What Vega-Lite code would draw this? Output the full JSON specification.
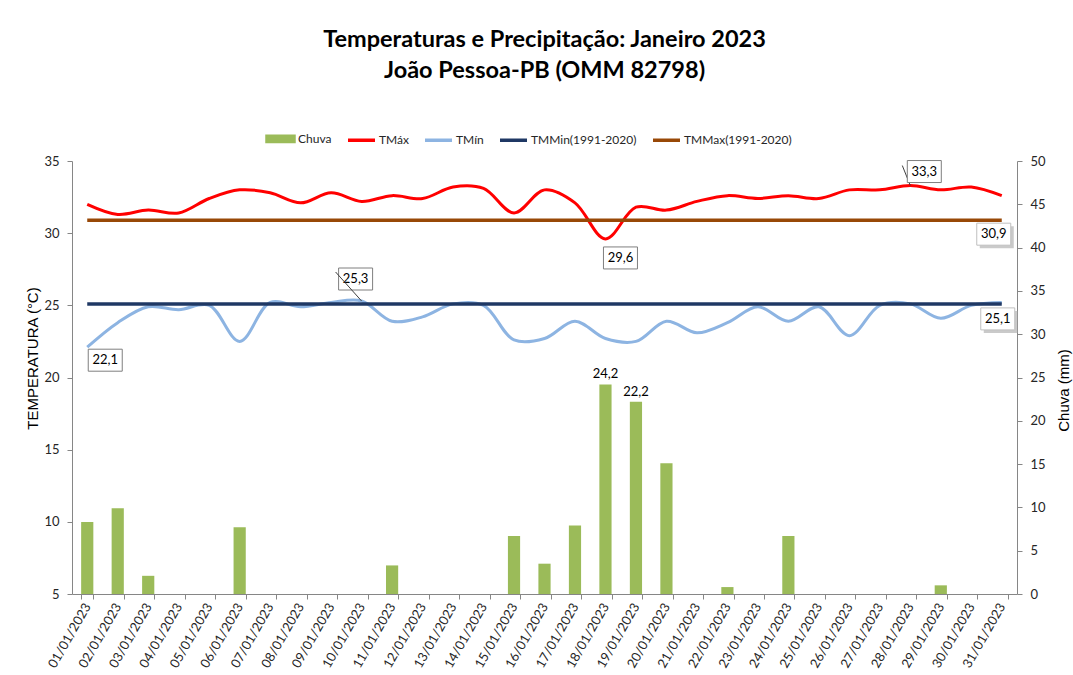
{
  "$schema": "https://vega.github.io/schema/vega-lite/v6.json",
  "width": 945,
  "height": 433,
  "autosize": "none",
  "padding": {"left": 72, "top": 161, "right": 56, "bottom": 81},
  "background": "white",
  "config": {
    "view": {"stroke": null},
    "font": "Lato",
    "locale": {"number": {"decimal": ",", "thousands": ".", "grouping": [3], "currency": ["R$", ""]}},
    "axis": {"domainColor": "#868686", "tickColor": "#868686", "labelColor": "#262626", "labelFont": "Lato", "grid": false}
  },
  "title": {
    "text": ["Temperaturas e Precipitação: Janeiro 2023", "João Pessoa-PB (OMM 82798)"],
    "font": "Lato",
    "fontSize": 23.5,
    "fontWeight": "bold",
    "lineHeight": 31,
    "anchor": "middle",
    "frame": "group",
    "color": "#000000",
    "offset": 41
  },
  "data": {
    "values": [
      {"data": "01/01/2023", "chuva": 8.3, "tmax": 32.0, "tmin": 22.1, "tmmin": 25.1, "tmmax": 30.9},
      {"data": "02/01/2023", "chuva": 9.9, "tmax": 31.3, "tmin": 23.8, "tmmin": 25.1, "tmmax": 30.9},
      {"data": "03/01/2023", "chuva": 2.1, "tmax": 31.6, "tmin": 24.9, "tmmin": 25.1, "tmmax": 30.9},
      {"data": "04/01/2023", "chuva": 0, "tmax": 31.4, "tmin": 24.7, "tmmin": 25.1, "tmmax": 30.9},
      {"data": "05/01/2023", "chuva": 0, "tmax": 32.4, "tmin": 25.0, "tmmin": 25.1, "tmmax": 30.9},
      {"data": "06/01/2023", "chuva": 7.7, "tmax": 33.0, "tmin": 22.5, "tmmin": 25.1, "tmmax": 30.9},
      {"data": "07/01/2023", "chuva": 0, "tmax": 32.8, "tmin": 25.2, "tmmin": 25.1, "tmmax": 30.9},
      {"data": "08/01/2023", "chuva": 0, "tmax": 32.1, "tmin": 24.9, "tmmin": 25.1, "tmmax": 30.9},
      {"data": "09/01/2023", "chuva": 0, "tmax": 32.8, "tmin": 25.2, "tmmin": 25.1, "tmmax": 30.9},
      {"data": "10/01/2023", "chuva": 0, "tmax": 32.2, "tmin": 25.3, "tmmin": 25.1, "tmmax": 30.9},
      {"data": "11/01/2023", "chuva": 3.3, "tmax": 32.6, "tmin": 23.9, "tmmin": 25.1, "tmmax": 30.9},
      {"data": "12/01/2023", "chuva": 0, "tmax": 32.4, "tmin": 24.2, "tmmin": 25.1, "tmmax": 30.9},
      {"data": "13/01/2023", "chuva": 0, "tmax": 33.2, "tmin": 25.1, "tmmin": 25.1, "tmmax": 30.9},
      {"data": "14/01/2023", "chuva": 0, "tmax": 33.1, "tmin": 25.0, "tmmin": 25.1, "tmmax": 30.9},
      {"data": "15/01/2023", "chuva": 6.7, "tmax": 31.4, "tmin": 22.6, "tmmin": 25.1, "tmmax": 30.9},
      {"data": "16/01/2023", "chuva": 3.5, "tmax": 33.0, "tmin": 22.7, "tmmin": 25.1, "tmmax": 30.9},
      {"data": "17/01/2023", "chuva": 7.9, "tmax": 32.1, "tmin": 23.9, "tmmin": 25.1, "tmmax": 30.9},
      {"data": "18/01/2023", "chuva": 24.2, "tmax": 29.6, "tmin": 22.7, "tmmin": 25.1, "tmmax": 30.9},
      {"data": "19/01/2023", "chuva": 22.2, "tmax": 31.8, "tmin": 22.5, "tmmin": 25.1, "tmmax": 30.9},
      {"data": "20/01/2023", "chuva": 15.1, "tmax": 31.6, "tmin": 23.9, "tmmin": 25.1, "tmmax": 30.9},
      {"data": "21/01/2023", "chuva": 0, "tmax": 32.2, "tmin": 23.1, "tmmin": 25.1, "tmmax": 30.9},
      {"data": "22/01/2023", "chuva": 0.8, "tmax": 32.6, "tmin": 23.8, "tmmin": 25.1, "tmmax": 30.9},
      {"data": "23/01/2023", "chuva": 0, "tmax": 32.4, "tmin": 24.9, "tmmin": 25.1, "tmmax": 30.9},
      {"data": "24/01/2023", "chuva": 6.7, "tmax": 32.6, "tmin": 23.9, "tmmin": 25.1, "tmmax": 30.9},
      {"data": "25/01/2023", "chuva": 0, "tmax": 32.4, "tmin": 24.9, "tmmin": 25.1, "tmmax": 30.9},
      {"data": "26/01/2023", "chuva": 0, "tmax": 33.0, "tmin": 22.9, "tmmin": 25.1, "tmmax": 30.9},
      {"data": "27/01/2023", "chuva": 0, "tmax": 33.0, "tmin": 25.0, "tmmin": 25.1, "tmmax": 30.9},
      {"data": "28/01/2023", "chuva": 0, "tmax": 33.3, "tmin": 25.1, "tmmin": 25.1, "tmmax": 30.9},
      {"data": "29/01/2023", "chuva": 1.0, "tmax": 33.0, "tmin": 24.1, "tmmin": 25.1, "tmmax": 30.9},
      {"data": "30/01/2023", "chuva": 0, "tmax": 33.2, "tmin": 25.0, "tmmin": 25.1, "tmmax": 30.9},
      {"data": "31/01/2023", "chuva": 0, "tmax": 32.6, "tmin": 25.2, "tmmin": 25.1, "tmmax": 30.9}
    ]
  },
  "encoding": {
    "x": {
      "field": "data",
      "type": "ordinal",
      "sort": null,
      "scale": {"paddingInner": 0.6, "paddingOuter": 0.3},
      "axis": {
        "title": null,
        "labelAngle": -60,
        "labelAlign": "right",
        "labelBaseline": "middle",
        "labelFontSize": 13,
        "labelPadding": 5,
        "tickBand": "extent",
        "tickSize": 5
      }
    }
  },
  "layer": [
    {
      "layer": [
        {
          "mark": {"type": "bar"},
          "encoding": {
            "y": {
              "field": "chuva",
              "type": "quantitative",
              "scale": {"domain": [0, 50], "nice": false},
              "axis": {"orient": "right", "values": [0, 5, 10, 15, 20, 25, 30, 35, 40, 45, 50], "title": "Chuva (mm)", "titleAngle": -90, "titleFont": "Liberation Sans", "titleFontSize": 15, "titleFontWeight": "normal", "titleColor": "#000000", "titlePadding": 26, "titleY": 229, "tickSize": 5, "labelPadding": 8, "labelFontSize": 13}
            },
            "color": {
              "datum": "Chuva",
              "type": "nominal",
              "scale": {
                "domain": ["Chuva", "TMáx", "TMín", "TMMin(1991-2020)", "TMMax(1991-2020)"],
                "range": ["#9BBB59", "#FF0000", "#8DB4E2", "#1F3864", "#984807"]
              },
              "legend": {
                "orient": "none",
                "legendX": 193,
                "legendY": -38,
                "direction": "horizontal",
                "title": null,
                "symbolType": "stroke",
                "symbolSize": 729,
                "symbolStrokeWidth": 3.5,
                "labelFont": "Lato",
                "labelFontSize": 12,
                "labelColor": "#262626",
                "labelOffset": 2,
                "columnPadding": 9,
                "padding": 0,
                "encode": {
                  "symbols": {
                    "update": {
                      "shape": {"signal": "datum.value === 'Chuva' ? 'M-1,-0.2H1V0.2H-1Z' : 'stroke'"},
                      "fill": {"signal": "datum.value === 'Chuva' ? '#9BBB59' : 'transparent'"},
                      "stroke": {"signal": "datum.value === 'Chuva' ? 'transparent' : scale('color', datum.value)"},
                      "strokeWidth": {"value": 3.5},
                      "opacity": {"value": 1}
                    }
                  }
                }
              }
            }
          }
        },
        {
          "transform": [{"filter": "datum.chuva > 20"}],
          "mark": {"type": "text", "baseline": "bottom", "dy": -3, "fontSize": 13, "font": "Lato", "color": "#000000"},
          "encoding": {
            "y": {
              "field": "chuva",
              "type": "quantitative",
              "scale": {"domain": [0, 50], "nice": false},
              "axis": {"orient": "right", "values": [0, 5, 10, 15, 20, 25, 30, 35, 40, 45, 50], "title": "Chuva (mm)", "titleAngle": -90, "titleFont": "Liberation Sans", "titleFontSize": 15, "titleFontWeight": "normal", "titleColor": "#000000", "titlePadding": 26, "titleY": 229, "tickSize": 5, "labelPadding": 8, "labelFontSize": 13}
            },
            "text": {"field": "chuva", "type": "quantitative", "format": ".1f"}
          }
        }
      ]
    },
    {
      "layer": [
        {
          "mark": {"type": "line", "interpolate": "catmull-rom", "strokeWidth": 3},
          "encoding": {
            "y": {
              "field": "tmax",
              "type": "quantitative",
              "scale": {"domain": [5, 35], "nice": false, "zero": false},
              "axis": {"orient": "left", "values": [5, 10, 15, 20, 25, 30, 35], "title": "TEMPERATURA (°C)", "titleFont": "Liberation Sans", "titleFontSize": 15, "titleFontWeight": "normal", "titleColor": "#000000", "titlePadding": 3, "titleY": 197, "tickSize": 5, "labelPadding": 8, "labelFontSize": 13}
            },
            "color": {"datum": "TMáx", "type": "nominal"}
          }
        },
        {
          "mark": {"type": "line", "interpolate": "catmull-rom", "strokeWidth": 3},
          "encoding": {
            "y": {
              "field": "tmin",
              "type": "quantitative",
              "scale": {"domain": [5, 35], "nice": false, "zero": false},
              "axis": {"orient": "left", "values": [5, 10, 15, 20, 25, 30, 35], "title": "TEMPERATURA (°C)", "titleFont": "Liberation Sans", "titleFontSize": 15, "titleFontWeight": "normal", "titleColor": "#000000", "titlePadding": 3, "titleY": 197, "tickSize": 5, "labelPadding": 8, "labelFontSize": 13}
            },
            "color": {"datum": "TMín", "type": "nominal"}
          }
        },
        {
          "mark": {"type": "line", "strokeWidth": 3.5},
          "encoding": {
            "y": {
              "field": "tmmin",
              "type": "quantitative",
              "scale": {"domain": [5, 35], "nice": false, "zero": false},
              "axis": {"orient": "left", "values": [5, 10, 15, 20, 25, 30, 35], "title": "TEMPERATURA (°C)", "titleFont": "Liberation Sans", "titleFontSize": 15, "titleFontWeight": "normal", "titleColor": "#000000", "titlePadding": 3, "titleY": 197, "tickSize": 5, "labelPadding": 8, "labelFontSize": 13}
            },
            "color": {"datum": "TMMin(1991-2020)", "type": "nominal"}
          }
        },
        {
          "mark": {"type": "line", "strokeWidth": 3.5},
          "encoding": {
            "y": {
              "field": "tmmax",
              "type": "quantitative",
              "scale": {"domain": [5, 35], "nice": false, "zero": false},
              "axis": {"orient": "left", "values": [5, 10, 15, 20, 25, 30, 35], "title": "TEMPERATURA (°C)", "titleFont": "Liberation Sans", "titleFontSize": 15, "titleFontWeight": "normal", "titleColor": "#000000", "titlePadding": 3, "titleY": 197, "tickSize": 5, "labelPadding": 8, "labelFontSize": 13}
            },
            "color": {"datum": "TMMax(1991-2020)", "type": "nominal"}
          }
        },
        {
          "transform": [{"filter": "datum.data === '01/01/2023'"}],
          "encoding": {"y": {"field": "tmin", "type": "quantitative", "scale": {"domain": [5, 35], "nice": false, "zero": false}, "axis": {"orient": "left", "values": [5, 10, 15, 20, 25, 30, 35], "title": "TEMPERATURA (°C)", "titleFont": "Liberation Sans", "titleFontSize": 15, "titleFontWeight": "normal", "titleColor": "#000000", "titlePadding": 3, "titleY": 197, "tickSize": 5, "labelPadding": 8, "labelFontSize": 13}}},
          "layer": [
            {"mark": {"type": "point", "shape": "M-1,-0.647H1V0.647H-1Z", "size": 1156, "filled": true, "fill": "white", "stroke": "#7F7F7F", "strokeWidth": 1, "opacity": 1, "xOffset": 18, "yOffset": 13}},
            {"mark": {"type": "text", "dx": 18, "dy": 13, "fontSize": 13, "font": "Lato", "color": "#000000"}, "encoding": {"text": {"field": "tmin", "type": "quantitative", "format": ".1f"}}}
          ]
        },
        {
          "transform": [{"filter": "datum.data === '10/01/2023'"}],
          "encoding": {"y": {"field": "tmin", "type": "quantitative", "scale": {"domain": [5, 35], "nice": false, "zero": false}, "axis": {"orient": "left", "values": [5, 10, 15, 20, 25, 30, 35], "title": "TEMPERATURA (°C)", "titleFont": "Liberation Sans", "titleFontSize": 15, "titleFontWeight": "normal", "titleColor": "#000000", "titlePadding": 3, "titleY": 197, "tickSize": 5, "labelPadding": 8, "labelFontSize": 13}}},
          "layer": [
            {"mark": {"type": "point", "shape": "M-1,-0.647H1V0.647H-1Z", "size": 1156, "filled": true, "fill": "white", "stroke": "#7F7F7F", "strokeWidth": 1, "opacity": 1, "xOffset": -6, "yOffset": -22}},
            {"mark": {"type": "text", "dx": -6, "dy": -22, "fontSize": 13, "font": "Lato", "color": "#000000"}, "encoding": {"text": {"field": "tmin", "type": "quantitative", "format": ".1f"}}},
            {"mark": {"type": "rule", "color": "#404040", "strokeWidth": 1, "x2Offset": -26, "y2Offset": -29}, "encoding": {"x2": {"field": "data"}, "y2": {"field": "tmin"}}}
          ]
        },
        {
          "transform": [{"filter": "datum.data === '18/01/2023'"}],
          "encoding": {"y": {"field": "tmax", "type": "quantitative", "scale": {"domain": [5, 35], "nice": false, "zero": false}, "axis": {"orient": "left", "values": [5, 10, 15, 20, 25, 30, 35], "title": "TEMPERATURA (°C)", "titleFont": "Liberation Sans", "titleFontSize": 15, "titleFontWeight": "normal", "titleColor": "#000000", "titlePadding": 3, "titleY": 197, "tickSize": 5, "labelPadding": 8, "labelFontSize": 13}}},
          "layer": [
            {"mark": {"type": "point", "shape": "M-1,-0.647H1V0.647H-1Z", "size": 1156, "filled": true, "fill": "white", "stroke": "#7F7F7F", "strokeWidth": 1, "opacity": 1, "xOffset": 15, "yOffset": 19}},
            {"mark": {"type": "text", "dx": 15, "dy": 19, "fontSize": 13, "font": "Lato", "color": "#000000"}, "encoding": {"text": {"field": "tmax", "type": "quantitative", "format": ".1f"}}}
          ]
        },
        {
          "transform": [{"filter": "datum.data === '28/01/2023'"}],
          "encoding": {"y": {"field": "tmax", "type": "quantitative", "scale": {"domain": [5, 35], "nice": false, "zero": false}, "axis": {"orient": "left", "values": [5, 10, 15, 20, 25, 30, 35], "title": "TEMPERATURA (°C)", "titleFont": "Liberation Sans", "titleFontSize": 15, "titleFontWeight": "normal", "titleColor": "#000000", "titlePadding": 3, "titleY": 197, "tickSize": 5, "labelPadding": 8, "labelFontSize": 13}}},
          "layer": [
            {"mark": {"type": "rule", "color": "#404040", "strokeWidth": 1, "x2Offset": -8, "y2Offset": -20}, "encoding": {"x2": {"field": "data"}, "y2": {"field": "tmax"}}},
            {"mark": {"type": "point", "shape": "M-1,-0.647H1V0.647H-1Z", "size": 1156, "filled": true, "fill": "white", "stroke": "#7F7F7F", "strokeWidth": 1, "opacity": 1, "xOffset": 14, "yOffset": -14}},
            {"mark": {"type": "text", "dx": 14, "dy": -14, "fontSize": 13, "font": "Lato", "color": "#000000"}, "encoding": {"text": {"field": "tmax", "type": "quantitative", "format": ".1f"}}}
          ]
        },
        {
          "transform": [{"filter": "datum.data === '31/01/2023'"}],
          "encoding": {"y": {"field": "tmmax", "type": "quantitative", "scale": {"domain": [5, 35], "nice": false, "zero": false}, "axis": {"orient": "left", "values": [5, 10, 15, 20, 25, 30, 35], "title": "TEMPERATURA (°C)", "titleFont": "Liberation Sans", "titleFontSize": 15, "titleFontWeight": "normal", "titleColor": "#000000", "titlePadding": 3, "titleY": 197, "tickSize": 5, "labelPadding": 8, "labelFontSize": 13}}},
          "layer": [
            {"mark": {"type": "point", "shape": "M-1,-0.647H1V0.647H-1Z", "size": 1156, "filled": true, "fill": "#A6A6A6", "strokeWidth": 0, "opacity": 0.6, "xOffset": -5, "yOffset": 17}},
            {"mark": {"type": "point", "shape": "M-1,-0.647H1V0.647H-1Z", "size": 1156, "filled": true, "fill": "white", "stroke": "#BFBFBF", "strokeWidth": 1, "opacity": 1, "xOffset": -8, "yOffset": 14}},
            {"mark": {"type": "text", "dx": -8, "dy": 14, "fontSize": 13, "font": "Lato", "color": "#000000"}, "encoding": {"text": {"field": "tmmax", "type": "quantitative", "format": ".1f"}}}
          ]
        },
        {
          "transform": [{"filter": "datum.data === '31/01/2023'"}],
          "encoding": {"y": {"field": "tmmin", "type": "quantitative", "scale": {"domain": [5, 35], "nice": false, "zero": false}, "axis": {"orient": "left", "values": [5, 10, 15, 20, 25, 30, 35], "title": "TEMPERATURA (°C)", "titleFont": "Liberation Sans", "titleFontSize": 15, "titleFontWeight": "normal", "titleColor": "#000000", "titlePadding": 3, "titleY": 197, "tickSize": 5, "labelPadding": 8, "labelFontSize": 13}}},
          "layer": [
            {"mark": {"type": "point", "shape": "M-1,-0.647H1V0.647H-1Z", "size": 1156, "filled": true, "fill": "#A6A6A6", "strokeWidth": 0, "opacity": 0.6, "xOffset": -1, "yOffset": 18}},
            {"mark": {"type": "point", "shape": "M-1,-0.647H1V0.647H-1Z", "size": 1156, "filled": true, "fill": "white", "stroke": "#BFBFBF", "strokeWidth": 1, "opacity": 1, "xOffset": -4, "yOffset": 15}},
            {"mark": {"type": "text", "dx": -4, "dy": 15, "fontSize": 13, "font": "Lato", "color": "#000000"}, "encoding": {"text": {"field": "tmmin", "type": "quantitative", "format": ".1f"}}}
          ]
        }
      ]
    }
  ],
  "resolve": {"scale": {"y": "independent"}}
}
